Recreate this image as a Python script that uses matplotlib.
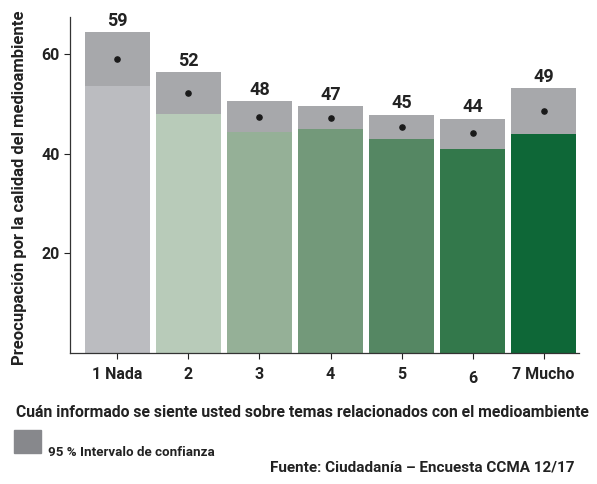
import matplotlib.pyplot as plt
from matplotlib.patches import Rectangle

# --------------------------------------------------------------------------------

categories = ['1 Nada', '2', '3', '4', '5', '6', '7 Mucho']
means = [59, 52, 48, 47, 45, 44, 49]
mean_exact = [59.0, 52.2, 47.4, 47.2, 45.4, 44.1, 48.5]
ci_low = [53.6, 48.0, 44.4, 45.0, 43.0, 40.9, 44.0]
ci_high = [64.4, 56.4, 50.6, 49.6, 47.8, 47.0, 53.2]

bar_colors = ['#bbbcc0', '#b8cbb9', '#95b097', '#73997a', '#558763', '#33784b', '#0e6737']
ci_color = '#a7a8ab'

# --------------------------------------------------------------------------------

plt.rcParams['font.family'] = ['Roboto', 'DejaVu Sans']
plt.rcParams['font.weight'] = 'bold'

fig = plt.figure(figsize=(5.97, 4.84), dpi=100)
ax = fig.add_axes([0.117, 0.271, 0.853, 0.694])

x = range(len(categories))
w = 0.915
ax.bar(x, ci_low, width=w, color=bar_colors, zorder=2)
ax.bar(x, [h - l for h, l in zip(ci_high, ci_low)], bottom=ci_low, width=w,
       color=ci_color, zorder=2)
ax.scatter(x, mean_exact, s=14, color='#1a1a1a', zorder=3)

for i, m in enumerate(means):
    ax.text(i, ci_high[i] + 0.5, str(m), ha='center', va='bottom',
            fontsize=13, fontweight='bold', color='#222222')

ax.set_xlim(-0.67, 6.5)
ax.set_ylim(0, 67.5)
ax.set_yticks([20, 40, 60])
ax.set_xticks(list(x))
ax.set_xticklabels(categories)
ax.tick_params(axis='both', labelsize=11.5, colors='#222222', length=4, width=0.8)
ax.tick_params(axis='x', pad=6)
ax.xaxis.get_major_ticks()[5].set_pad(9)
for lab in ax.get_xticklabels() + ax.get_yticklabels():
    lab.set_fontweight('bold')

for s in ['top', 'right']:
    ax.spines[s].set_visible(False)
for s in ['left', 'bottom']:
    ax.spines[s].set_color('#333333')
    ax.spines[s].set_linewidth(0.9)

ax.set_ylabel('Preocupación por la calidad del medioambiente', fontsize=12,
              fontweight='bold', color='#222222')
ax.yaxis.set_label_coords(-0.084, 0.49)

fig.text(0.026, 0.147, 'Cuán informado se siente usted sobre temas relacionados con el medioambiente',
         fontsize=11.3, fontweight='bold', color='#222222', va='center')

fig.patches.append(Rectangle((0.0235, 0.064), 0.045, 0.0475, transform=fig.transFigure,
                             color='#87888c', figure=fig))
fig.text(0.08, 0.066, '95 % Intervalo de confianza', fontsize=9.6, fontweight='bold',
         color='#222222', va='center')
fig.text(0.963, 0.035, 'Fuente: Ciudadanía – Encuesta CCMA 12/17', fontsize=11,
         fontweight='bold', color='#222222', ha='right', va='center')

fig.savefig('out.png', dpi=100)
